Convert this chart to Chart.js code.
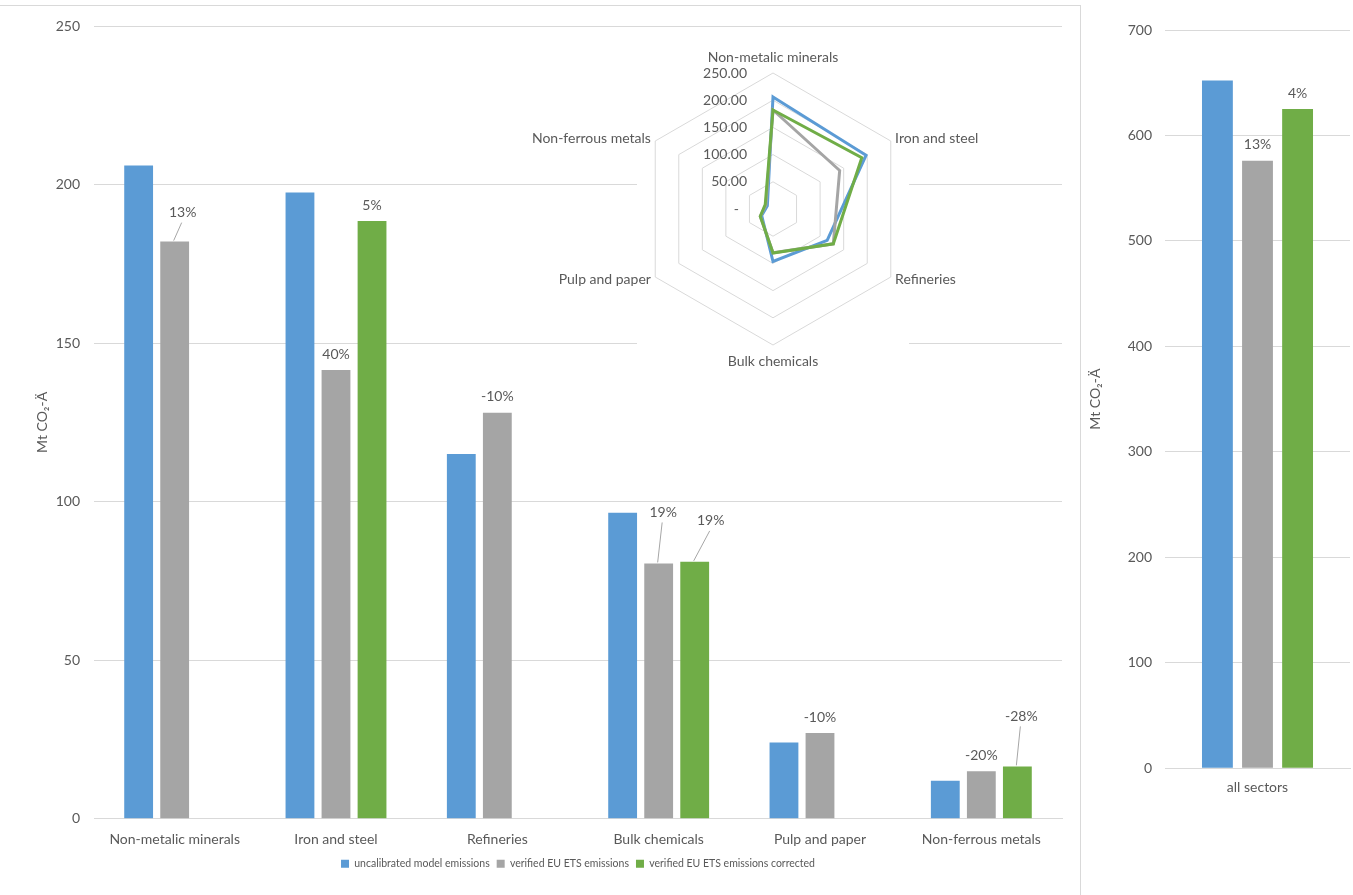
<!DOCTYPE html>
<html>
<head>
<meta charset="utf-8">
<script src="https://cdn.jsdelivr.net/npm/chart.js@4.4.1/dist/chart.umd.min.js"></script>
<style>
  body { margin: 0; width: 1353px; height: 895px; background: #fff; overflow: hidden; font-family: Lato, sans-serif; }
  #left-panel { position: absolute; left: 0; top: 5px; width: 1080px; height: 890px; border-top: 1px solid #d9d9d9; border-right: 1px solid #d9d9d9; }
  #main-wrap { position: absolute; left: 0; top: 0; width: 1080px; height: 895px; }
  #radar-bg { position: absolute; left: 637px; top: 45px; width: 272px; height: 330px; background: #fff; }
  #radar-wrap { position: absolute; left: 520px; top: 40px; width: 480px; height: 360px; }
  #total-wrap { position: absolute; left: 1081px; top: 0; width: 272px; height: 895px; }
</style>
</head>
<body>
<div id="left-panel"></div>
<div id="main-wrap"><canvas id="chart-main"></canvas></div>
<div id="radar-bg"></div>
<div id="radar-wrap"><canvas id="chart-radar"></canvas></div>
<div id="total-wrap"><canvas id="chart-total"></canvas></div>
<script>
// --- data ---
const sectors = ['Non-metalic minerals', 'Iron and steel', 'Refineries', 'Bulk chemicals', 'Pulp and paper', 'Non-ferrous metals'];
const uncalibrated = [206, 197.5, 115, 96.5, 24, 12];
const verified = [182, 141.5, 128, 80.5, 27, 15];
const corrected = [null, 188.5, null, 81, null, 16.5];
const verifiedPct = ['13%', '40%', '-10%', '19%', '-10%', '-20%'];
const correctedPct = [null, '5%', null, '19%', null, '-28%'];
const mainTicks = [0, 50, 100, 150, 200, 250];

const totalLabels = ['all sectors'];
const totalUncalibrated = [652];
const totalVerified = [576];
const totalCorrected = [625];
const totalVerifiedPct = ['13%'];
const totalCorrectedPct = ['4%'];
const totalTicks = [0, 100, 200, 300, 400, 500, 600, 700];

const radarTicks = [0, 50, 100, 150, 200, 250];

const seriesNames = ['uncalibrated model emissions', 'verified EU ETS emissions', 'verified EU ETS emissions corrected'];
const yTitle = 'Mt CO\u2082-\u00C4';

// --- styles ---
const BLUE = '#5b9bd5', GREY = '#a5a5a5', GREEN = '#70ad47';
const TEXT = '#595959', GRID = '#d9d9d9';
const FONT = 'Lato';

Chart.defaults.font.family = FONT;
Chart.defaults.color = TEXT;
Chart.defaults.animation = false;

// percentage labels above bars, some pulled away with a leader line
const barLabels = {
    id: 'barLabels',
    afterDatasetsDraw(chart, args, opts) {
        const ctx = chart.ctx;
        ctx.save();
        ctx.font = `14px ${FONT}`;
        ctx.fillStyle = TEXT;
        ctx.textAlign = 'center';
        ctx.textBaseline = 'middle';
        chart.data.datasets.forEach((ds, di) => {
            if (!ds.pctLabels) return;
            const meta = chart.getDatasetMeta(di);
            meta.data.forEach((bar, i) => {
                const txt = ds.pctLabels[i];
                if (!txt || ds.data[i] == null) return;
                const off = ((opts.leaders || {})[di] || {})[i];
                let x = bar.x, y = bar.y - 16;
                if (off) {
                    x = bar.x + off[0];
                    y = bar.y + off[1];
                    ctx.strokeStyle = '#a6a6a6';
                    ctx.lineWidth = 1;
                    ctx.beginPath();
                    ctx.moveTo(bar.x - 1, bar.y - 1);
                    ctx.lineTo(x - 1, y + 10);
                    ctx.stroke();
                }
                ctx.fillText(txt, x, y);
            });
        });
        ctx.restore();
    }
};

function barDatasets(a, b, c, pb, pc) {
    return [
        { label: seriesNames[0], data: a, backgroundColor: BLUE },
        { label: seriesNames[1], data: b, backgroundColor: GREY, pctLabels: pb },
        { label: seriesNames[2], data: c, backgroundColor: GREEN, pctLabels: pc }
    ];
}

// main grouped bar chart
new Chart(document.getElementById('chart-main'), {
    type: 'bar',
    data: { labels: sectors, datasets: barDatasets(uncalibrated, verified, corrected, verifiedPct, correctedPct) },
    options: {
        responsive: true,
        maintainAspectRatio: false,
        layout: { padding: { left: 0, right: 18, top: 26, bottom: 16 } },
        datasets: { bar: { categoryPercentage: 0.67, barPercentage: 0.8 } },
        plugins: {
            legend: {
                position: 'bottom',
                fullSize: false,
                labels: { boxWidth: 8, boxHeight: 8, padding: 7, font: { size: 10.5 }, color: TEXT }
            },
            tooltip: { enabled: false },
            barLabels: { leaders: { 1: { 0: [8, -29], 3: [4.5, -51] }, 2: { 3: [16, -41], 5: [4, -50] } } }
        },
        scales: {
            x: {
                grid: { display: false },
                border: { color: GRID },
                ticks: { font: { size: 14 }, color: TEXT, padding: 4 }
            },
            y: {
                min: 0, max: 250,
                afterBuildTicks: s => { s.ticks = mainTicks.map(v => ({ value: v })); },
                afterFit: s => { s.width = 94; },
                grid: { color: GRID, drawTicks: false },
                border: { display: false },
                ticks: { font: { size: 14 }, color: TEXT, padding: 14 },
                title: { display: true, text: yTitle, font: { size: 14 }, color: TEXT, padding: { top: 34, bottom: 4 } }
            }
        }
    },
    plugins: [barLabels]
});

// radar inset: tick values and category names drawn next to the library's own points
const radarCorrected = corrected.map((v, i) => v == null ? verified[i] : v);
const radarText = {
    id: 'radarText',
    afterDraw(chart) {
        const s = chart.scales.r;
        const ctx = chart.ctx;
        ctx.save();
        ctx.font = `14px ${FONT}`;
        ctx.fillStyle = TEXT;
        ctx.textBaseline = 'middle';
        ctx.textAlign = 'right';
        radarTicks.forEach(v => {
            const d = s.getDistanceFromCenterForValue(v);
            ctx.fillText(v === 0 ? '-' : v.toFixed(2), s.xCenter - (v === 0 ? 34 : 26), s.yCenter - d);
        });
        chart.data.labels.forEach((lbl, i) => {
            const p = s.getPointPosition(i, s.drawingArea + 5);
            const dx = p.x - s.xCenter;
            let y = p.y;
            if (Math.abs(dx) < 1) {
                ctx.textAlign = 'center';
                y += (p.y < s.yCenter ? -11 : 11);
            } else {
                ctx.textAlign = dx > 0 ? 'left' : 'right';
            }
            ctx.fillText(lbl, p.x, y);
        });
        ctx.restore();
    }
};
new Chart(document.getElementById('chart-radar'), {
    type: 'radar',
    data: {
        labels: sectors,
        datasets: [
            { data: uncalibrated, borderColor: BLUE, order: 3 },
            { data: verified, borderColor: GREY, order: 2 },
            { data: radarCorrected, borderColor: GREEN, order: 1 }
        ]
    },
    options: {
        responsive: true,
        maintainAspectRatio: false,
        layout: { padding: { left: 117, right: 91, top: 33, bottom: 55 } },
        elements: { line: { borderWidth: 3, fill: false, tension: 0 }, point: { radius: 0 } },
        plugins: { legend: { display: false }, tooltip: { enabled: false } },
        scales: {
            r: {
                min: 0, max: 250,
                afterBuildTicks: s => { s.ticks = radarTicks.map(v => ({ value: v })); },
                angleLines: { display: false },
                grid: { color: GRID, lineWidth: 1 },
                ticks: { display: false },
                pointLabels: { display: false }
            }
        }
    },
    plugins: [radarText]
});

// all-sectors totals
new Chart(document.getElementById('chart-total'), {
    type: 'bar',
    data: { labels: totalLabels, datasets: barDatasets(totalUncalibrated, totalVerified, totalCorrected, totalVerifiedPct, totalCorrectedPct) },
    options: {
        responsive: true,
        maintainAspectRatio: false,
        layout: { padding: { left: 0, right: 3, top: 30, bottom: 96 } },
        datasets: { bar: { categoryPercentage: 0.65, barPercentage: 0.77 } },
        plugins: { legend: { display: false }, tooltip: { enabled: false }, barLabels: { leaders: {} } },
        scales: {
            x: {
                grid: { display: false },
                border: { color: GRID },
                ticks: { font: { size: 14 }, color: TEXT, padding: 3 }
            },
            y: {
                min: 0, max: 700,
                afterBuildTicks: s => { s.ticks = totalTicks.map(v => ({ value: v })); },
                afterFit: s => { s.width = 84; },
                grid: { color: GRID, drawTicks: false },
                border: { display: false },
                ticks: { font: { size: 14 }, color: TEXT, padding: 13 },
                title: { display: true, text: yTitle, font: { size: 14 }, color: TEXT, padding: { top: 6, bottom: 4 } }
            }
        }
    },
    plugins: [barLabels]
});
</script>
</body>
</html>
